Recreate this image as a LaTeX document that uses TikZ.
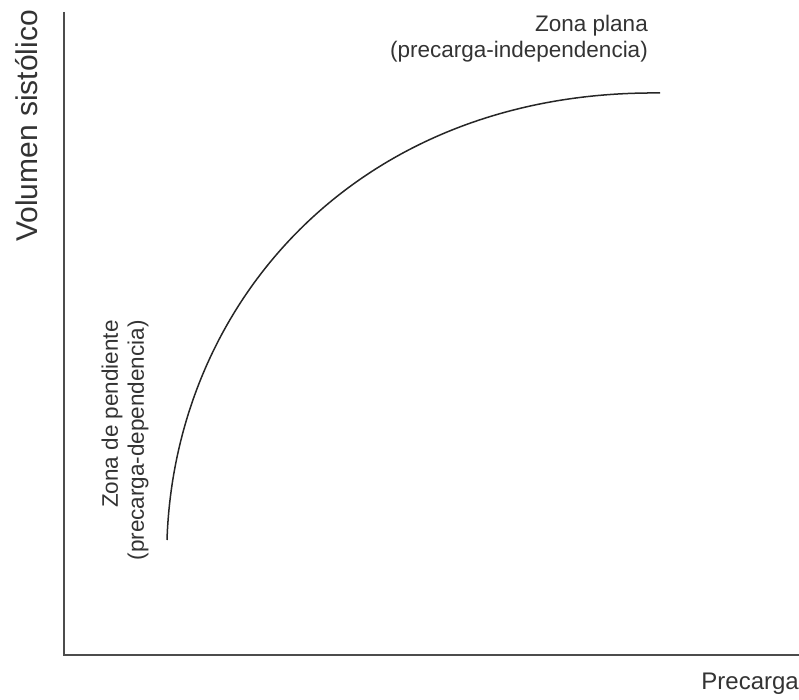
\documentclass[tikz,border=0pt]{standalone}
\usepackage{fontspec}
\setmainfont{Liberation Sans}
\usetikzlibrary{calc,positioning}

\begin{document}
\begin{tikzpicture}[
    x=1pt, y=-1pt,
    axis/.style={draw=black!70, line width=1.8pt},
    curve/.style={draw=black!85, line width=1.5pt},
    axislabel/.style={font=\fontsize{30}{34}\selectfont, text=black!80, inner sep=0pt},
    zone/.style={font=\fontsize{22.5}{26}\selectfont, text=black!80, inner sep=0pt, align=right}
]
\useasboundingbox (0,0) rectangle (799,700);

\coordinate (origin) at (64,655);
\coordinate (ytop) at (64,12);
\coordinate (xend) at (799,655);
\coordinate (start) at (167,540);
\coordinate (plateau) at (660,93);

\draw[axis] (ytop) -- (origin) -- (xend);
\draw[curve] (start) .. controls (175,300) and (360,90) .. (plateau);

\node[axislabel, rotate=90, anchor=east] (yl) at (27,10) {Volumen sistólico};
\node[axislabel, font=\fontsize{24}{28}\selectfont, anchor=north east] (xl) at (799,673) {Precarga};

\node[zone, anchor=south east] (flat) at (648,62) {Zona plana\\(precarga-independencia)};
\node[zone, rotate=90, anchor=east] (slope) at (125,320) {Zona de pendiente\\(precarga-dependencia)};

\end{tikzpicture}
\end{document}
